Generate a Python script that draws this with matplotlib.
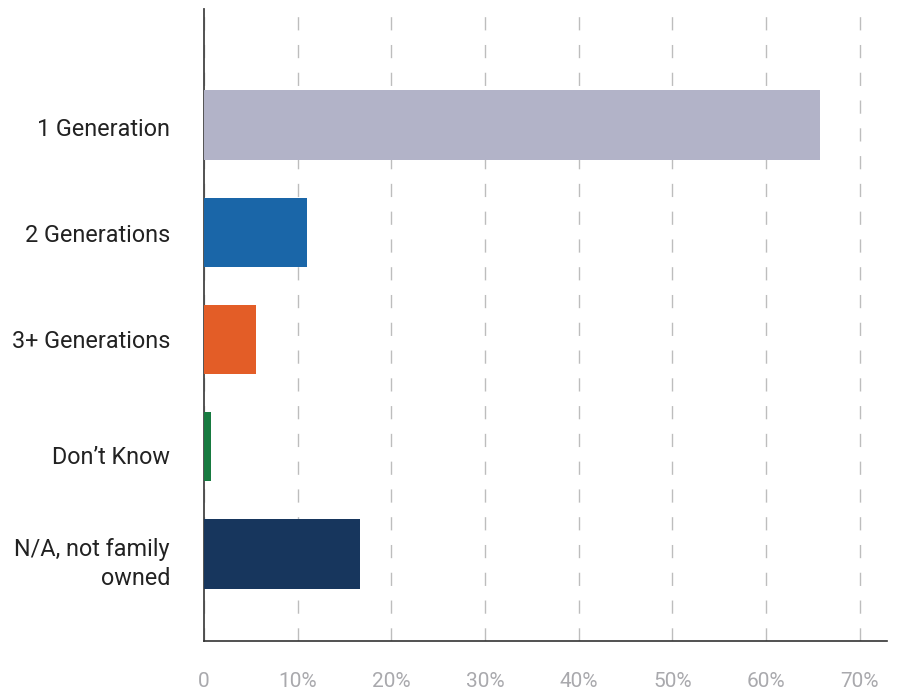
import matplotlib
matplotlib.use("Agg")
import matplotlib.pyplot as plt
from matplotlib.ticker import FuncFormatter
from matplotlib.transforms import ScaledTranslation, blended_transform_factory

categories = ["1 Generation", "2 Generations", "3+ Generations", "Don\u2019t Know", "N/A, not family\nowned"]
values = [65.7, 11.0, 5.5, 0.75, 16.6]
colors = ["#b2b3c8", "#1a66a8", "#e35d27", "#177a40", "#17365d"]
xticks = [0, 10, 20, 30, 40, 50, 60, 70]

# vertical nudges (pixels) of the category labels relative to bar centres
label_dy = [-5, -3, -2, -11, -10]

fig = plt.figure(figsize=(9.01, 6.94), dpi=100)
ax = fig.add_axes([0.2264, 0.0764, 0.7581, 0.9106])

ypos = list(range(len(categories)))
ax.barh(ypos, values, height=0.645, color=colors, zorder=3)

ax.set_ylim(4.81, -1.08)
ax.set_xlim(0, 72.9)
ax.set_xticks(xticks)
ax.xaxis.set_major_formatter(FuncFormatter(lambda v, p: "0" if v == 0 else f"{int(v)}%"))
ax.set_yticks(ypos)
ax.set_yticklabels([])
ax.tick_params(axis="y", length=0)

base = blended_transform_factory(ax.transAxes, ax.transData)
for y, lab, dy in zip(ypos, categories, label_dy):
    tr = base + ScaledTranslation(-34 / 100, dy / 100, fig.dpi_scale_trans)
    ax.text(0, y, lab, transform=tr, ha="right", va="center", fontfamily="Roboto",
            fontsize=16.8, color="#222222", linespacing=1.3, multialignment="right")

for lab in ax.get_xticklabels():
    lab.set_fontfamily("Roboto")
    lab.set_fontsize(15)
    lab.set_color("#a9a9ad")
ax.tick_params(axis="x", length=0, pad=22)

ax.xaxis.grid(True, color="#bdbdbd", linewidth=1.0, linestyle=(0, (9.5, 10.5)), zorder=0)
ax.yaxis.grid(False)
ax.set_axisbelow(True)

for s in ["top", "right"]:
    ax.spines[s].set_visible(False)
ax.spines["left"].set_color("#444444")
ax.spines["left"].set_linewidth(1.3)
ax.spines["bottom"].set_color("#333333")
ax.spines["bottom"].set_linewidth(1.2)

fig.savefig("out.png", dpi=100)
